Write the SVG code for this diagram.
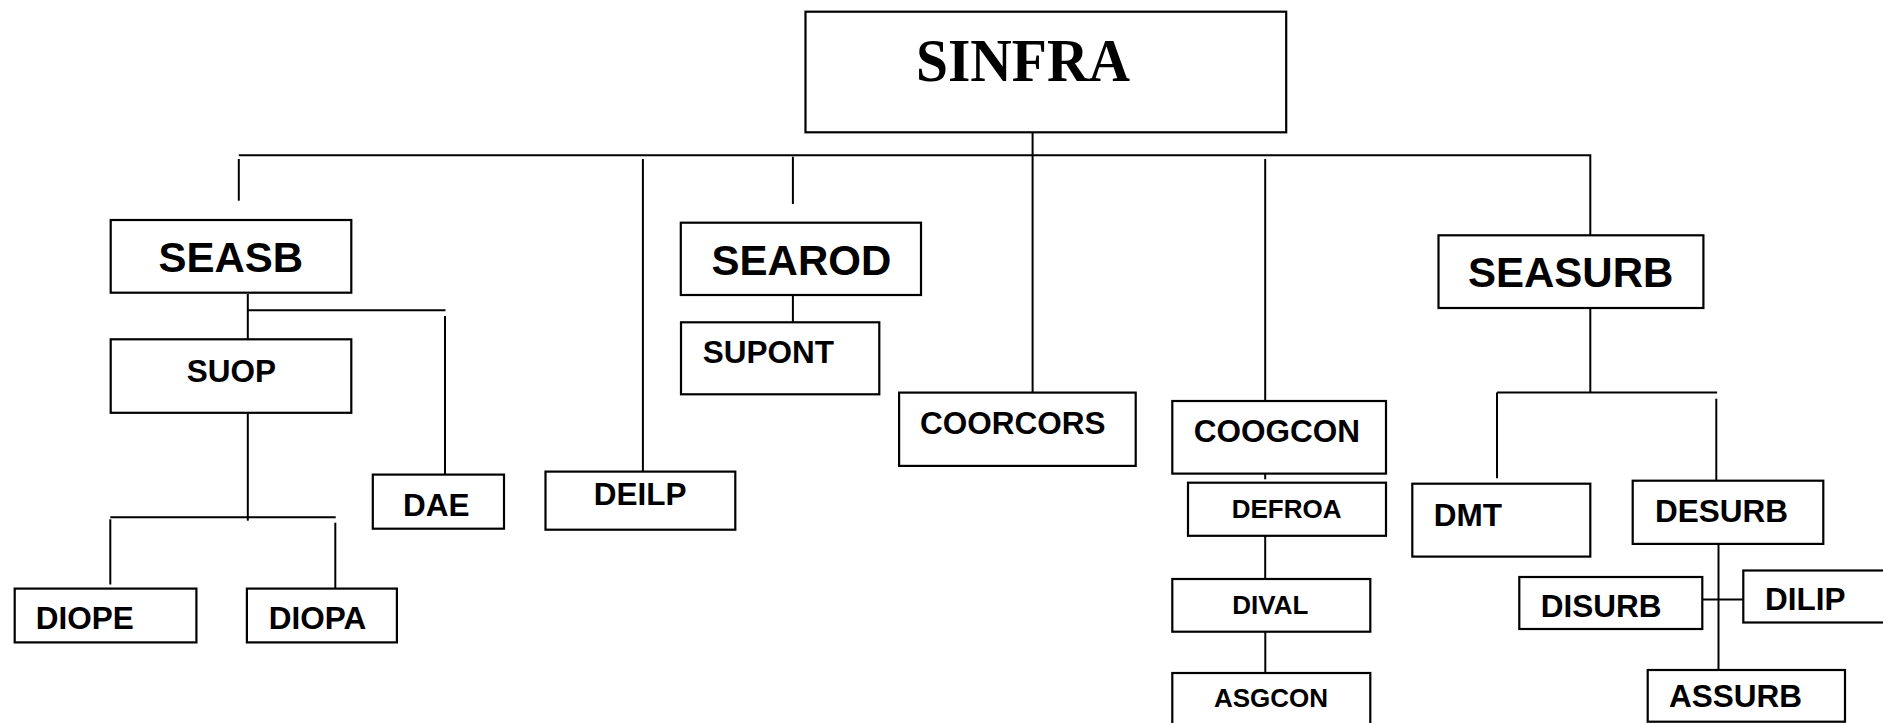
<svg xmlns="http://www.w3.org/2000/svg" width="1883" height="723" viewBox="0 0 1883 723">
<style>
.box{fill:#fff;stroke:#000;stroke-width:2.2}
.t{font-family:"Liberation Sans",Arial,sans-serif;font-weight:bold;fill:#000}
.big{font-size:42px}
.mid{font-size:31.5px}
.sm{font-size:26px}
.conn path{fill:none;stroke:#000;stroke-width:2}
</style>
<rect width="1883" height="723" fill="#fff"/>
<g id="connectors" class="conn">
<path d="M1032.6 132 V398"/>
<path d="M238.8 155.3 H1590.3 V235.3"/>
<path d="M238.8 159 V200.7"/>
<path d="M642.9 159 V471.6"/>
<path d="M792.9 156.7 V204"/>
<path d="M1265.2 159 V401"/>
<path d="M247.8 294 V339.3"/>
<path d="M247.8 310.3 H445.5"/>
<path d="M445 316 V474.6"/>
<path d="M247.8 412.8 V520.7"/>
<path d="M110.3 517.3 H335.7"/>
<path d="M110.3 519.3 V584.5"/>
<path d="M335.3 522.7 V588.6"/>
<path d="M792.9 290.7 V322.3"/>
<path d="M1265.2 460.8 V479.3"/>
<path d="M1265.2 535.8 V580"/>
<path d="M1265.3 629.3 V674"/>
<path d="M1590.3 302.7 V392.6"/>
<path d="M1497 392.6 H1717.1"/>
<path d="M1497 392.6 V478.3"/>
<path d="M1716.3 398.7 V484.4"/>
<path d="M1718.5 543.9 V672.7"/>
<path d="M1702.3 599.5 H1743.3"/>
</g>
<g id="SINFRA"><rect class="box" x="805.5" y="11.7" width="480.7" height="120.6"/><text x="1023" y="81" text-anchor="middle" font-family="'Liberation Serif','Times New Roman',serif" font-weight="bold" font-size="61" textLength="214" lengthAdjust="spacingAndGlyphs">SINFRA</text></g>
<g id="SEASB"><rect class="box" x="110.7" y="220" width="240.6" height="72.7"/><text class="t big" x="158.5" y="271.7">SEASB</text></g>
<g id="SUOP"><rect class="box" x="110.7" y="339.3" width="240.6" height="73.5"/><text class="t mid" x="186.7" y="381.7">SUOP</text></g>
<g id="DIOPE"><rect class="box" x="14.7" y="588.6" width="181.7" height="53.8"/><text class="t mid" x="35.7" y="628.9">DIOPE</text></g>
<g id="DIOPA"><rect class="box" x="246.9" y="588.6" width="150" height="53.8"/><text class="t mid" x="268.8" y="628.9">DIOPA</text></g>
<g id="DAE"><rect class="box" x="372.8" y="474.6" width="131.2" height="54.1"/><text class="t mid" x="403" y="516.3">DAE</text></g>
<g id="DEILP"><rect class="box" x="545.5" y="471.6" width="189.8" height="58.1"/><text class="t mid" x="593.8" y="505.2">DEILP</text></g>
<g id="SEAROD"><rect class="box" x="680.8" y="222.7" width="240.2" height="72.3"/><text class="t big" x="711.6" y="275">SEAROD</text></g>
<g id="SUPONT"><rect class="box" x="681" y="322.3" width="198.3" height="72"/><text class="t mid" x="702.7" y="363.3">SUPONT</text></g>
<g id="COORCORS"><rect class="box" x="899.1" y="392.6" width="236.6" height="73.3"/><text class="t mid" x="920" y="434">COORCORS</text></g>
<g id="COOGCON"><rect class="box" x="1172.3" y="401" width="213.7" height="72.6"/><text class="t mid" x="1193.8" y="442.4">COOGCON</text></g>
<g id="DEFROA"><rect class="box" x="1188" y="482.7" width="198" height="53.1"/><text class="t sm" x="1231.7" y="518">DEFROA</text></g>
<g id="DIVAL"><rect class="box" x="1172.3" y="579" width="198" height="52.7"/><text class="t sm" x="1232.3" y="614">DIVAL</text></g>
<g id="ASGCON"><rect class="box" x="1172.3" y="673" width="198" height="60"/><text class="t sm" x="1214" y="707.3">ASGCON</text></g>
<g id="SEASURB"><rect class="box" x="1438.5" y="235.3" width="264.9" height="72.7"/><text class="t big" x="1468" y="287.3">SEASURB</text></g>
<g id="DMT"><rect class="box" x="1412.3" y="483.7" width="178" height="72.9"/><text class="t mid" x="1433.7" y="526.4">DMT</text></g>
<g id="DESURB"><rect class="box" x="1632.7" y="480.7" width="190.6" height="63.2"/><text class="t mid" x="1655" y="522">DESURB</text></g>
<g id="DISURB"><rect class="box" x="1519.3" y="577" width="183" height="52"/><text class="t mid" x="1540.7" y="617">DISURB</text></g>
<g id="DILIP"><rect class="box" x="1743.3" y="570.5" width="150" height="52"/><text class="t mid" x="1765" y="610">DILIP</text></g>
<g id="ASSURB"><rect class="box" x="1647.7" y="670" width="197.3" height="51.7"/><text class="t mid" x="1669" y="706.7">ASSURB</text></g>
</svg>
